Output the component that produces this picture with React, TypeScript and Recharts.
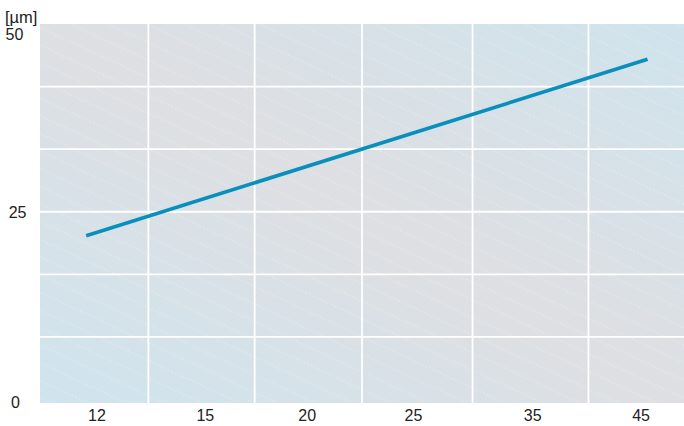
import React from 'react';
import { LineChart, Line, XAxis, YAxis, ReferenceLine, ReferenceArea, Customized } from 'recharts';

const xTickLabels = ['12', '15', '20', '25', '35', '45'];
const xTickPos = [0.53, 1.54, 2.49, 3.48, 4.59, 5.6];
const xGridPos = [1.01, 2.0, 3.0, 4.03, 5.11];
const yTickValues = [0, 25, 50];
const yGridValues = [8.33, 16.67, 25, 33.33, 41.67];
const lineX = [0.43, 5.66];
const lineY = [21.8, 45.3];
const unitLabel = '[µm]';

const data = lineX.map((x, i) => ({ x, y: lineY[i] }));

const FONT = '"Liberation Sans", Arial, Helvetica, sans-serif';
const TEXT_COLOR = '#222';

const XTick = (props: any) => {
  const { x, y, payload } = props;
  const idx = xTickPos.indexOf(payload.value);
  return (
    <text x={x} y={y + 17.5} textAnchor="middle" fontFamily={FONT} fontSize={16} fill={TEXT_COLOR}>
      {idx >= 0 ? xTickLabels[idx] : ''}
    </text>
  );
};

const yLabelStyle: Record<number, { x: number; dy: number }> = {
  0: { x: 11, dy: 9 },
  25: { x: 8.7, dy: 6.4 },
  50: { x: 5.5, dy: 16.3 },
};

const YTick = (props: any) => {
  const { y, payload } = props;
  const s = yLabelStyle[payload.value] || { x: 8, dy: 6 };
  return (
    <text x={s.x} y={y + s.dy} textAnchor="start" fontFamily={FONT} fontSize={16} fill={TEXT_COLOR}>
      {String(payload.value)}
    </text>
  );
};

const UnitLabel = () => (
  <text x={5} y={22.5} textAnchor="start" fontFamily={FONT} fontSize={16.5} fill={TEXT_COLOR}>
    {unitLabel}
  </text>
);

export default function App() {
  return (
    <div style={{ position: 'absolute', left: 0, top: 0, width: 684, height: 426, background: '#fff' }}>
      <LineChart width={684} height={426} data={data} margin={{ top: 24, right: 0, bottom: 0, left: 0 }}>
        <defs>
          <linearGradient id="bgGrad" x1="0" y1="1" x2="1" y2="0">
            <stop offset="0" stopColor="#cfe4ee" />
            <stop offset="0.5" stopColor="#dedfe2" />
            <stop offset="1" stopColor="#cfe3ec" />
          </linearGradient>
          <pattern id="hatch" patternUnits="userSpaceOnUse" width="40" height="16" patternTransform="rotate(25)">
            <line x1="0" y1="8" x2="40" y2="8" stroke="#ffffff" strokeOpacity="0.3" strokeWidth="1" strokeDasharray="2 2" />
          </pattern>
        </defs>
        <XAxis
          type="number"
          dataKey="x"
          domain={[0, 6]}
          ticks={xTickPos}
          interval={0}
          height={23}
          axisLine={false}
          tickLine={false}
          tickSize={0}
          tickMargin={0}
          tick={<XTick />}
          allowDataOverflow
        />
        <YAxis
          type="number"
          domain={[-0.47, 50]}
          ticks={yTickValues}
          interval={0}
          width={40}
          axisLine={false}
          tickLine={false}
          tickSize={0}
          tickMargin={0}
          tick={<YTick />}
          allowDataOverflow
        />
        <ReferenceArea x1={0} x2={6} y1={-0.47} y2={50} fill="url(#bgGrad)" fillOpacity={1} stroke="none" />
        <ReferenceArea x1={0} x2={6} y1={-0.47} y2={50} fill="url(#hatch)" fillOpacity={1} stroke="none" />
        {yGridValues.map((v) => (
          <ReferenceLine key={'h' + v} y={v} stroke="#ffffff" strokeWidth={1.8} />
        ))}
        {xGridPos.map((v) => (
          <ReferenceLine key={'v' + v} x={v} stroke="#ffffff" strokeWidth={1.8} />
        ))}
        <Line
          type="linear"
          dataKey="y"
          stroke="#0a8fbd"
          strokeWidth={3.6}
          dot={false}
          activeDot={false}
          isAnimationActive={false}
          strokeLinecap="butt"
        />
        <Customized component={UnitLabel} />
      </LineChart>
    </div>
  );
}
